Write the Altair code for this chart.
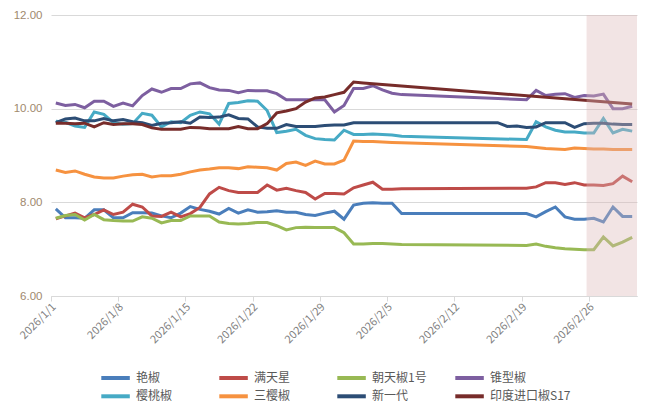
import altair as alt
import pandas as pd

# ---- data (daily, 2026-01-01 .. 2026-03-02; None = no quote that day) ----
start_date = "2026-01-01"
n_days = 61
N = None

series_names = ["艳椒", "满天星", "朝天椒1号", "锥型椒", "樱桃椒", "三樱椒", "新一代", "印度进口椒S17"]
series_colors = ["#4A7EBB", "#BE4B48", "#98B954", "#7D5FA0", "#46AAC5", "#F69240", "#2C4D75", "#772C2A"]

yanjiao = [7.86, 7.67, 7.67, 7.66, 7.84, 7.84, 7.67, 7.67, 7.78, 7.78, 7.77, 7.71, 7.67, 7.77, 7.91,
           7.85, 7.81, 7.75, 7.87, 7.77, 7.84, 7.79, 7.80, 7.82, 7.79, 7.79, 7.74, 7.72, 7.77, 7.81,
           7.64, 7.94, 7.98, 7.99, 7.98, 7.98, 7.76, N, N, N, N, N, N, N, N, N, N, N, N,
           7.76, 7.69, 7.80, 7.90, 7.69, 7.64, 7.64, 7.66, 7.58, 7.90, 7.70, 7.70]
mantianxing = [7.65, 7.71, 7.77, 7.67, 7.74, 7.84, 7.74, 7.79, 7.96, 7.90, 7.71, 7.70, 7.79, 7.69, 7.76,
               7.89, 8.18, 8.32, 8.25, 8.21, 8.21, 8.21, 8.37, 8.26, 8.30, 8.25, 8.21, 8.07, 8.19, 8.19,
               8.18, 8.31, 8.37, 8.43, 8.28, 8.28, 8.29, N, N, N, N, N, N, N, N, N, N, N, N,
               8.30, 8.33, 8.42, 8.42, 8.38, 8.42, 8.37, 8.37, 8.36, 8.40, 8.56, 8.44]
chaotian1 = [7.66, 7.72, 7.74, 7.62, 7.74, 7.63, 7.61, 7.60, 7.60, 7.69, 7.66, 7.56, 7.61, 7.61, 7.71,
             7.71, 7.71, 7.58, 7.55, 7.54, 7.55, 7.57, 7.57, 7.50, 7.41, 7.46, 7.47, 7.46, 7.46, 7.46,
             7.35, 7.11, 7.11, 7.12, 7.12, 7.11, 7.10, N, N, N, N, N, N, N, N, N, N, N, N,
             7.08, 7.11, 7.06, 7.03, 7.01, 7.00, 6.99, 6.99, 7.26, 7.07, 7.15, 7.25]
zhuixing = [10.12, 10.07, 10.09, 10.02, 10.16, 10.16, 10.05, 10.12, 10.06, 10.28, 10.42, 10.35, 10.43, 10.43, 10.53,
            10.55, 10.45, 10.40, 10.39, 10.34, 10.39, 10.38, 10.38, 10.32, 10.19, 10.19, 10.19, 10.19, 10.19, 9.93,
            10.07, 10.43, 10.43, 10.49, 10.40, 10.33, 10.30, N, N, N, N, N, N, N, N, N, N, N, N,
            10.19, 10.39, 10.28, 10.31, 10.32, 10.24, 10.28, 10.27, 10.31, 10.00, 10.00, 10.05]
yingtao = [9.73, 9.71, 9.63, 9.60, 9.93, 9.88, 9.70, 9.67, 9.68, 9.90, 9.86, 9.61, 9.72, 9.70, 9.86,
           9.93, 9.89, 9.67, 10.11, 10.13, 10.17, 10.16, 9.96, 9.49, 9.52, 9.56, 9.43, 9.36, 9.34, 9.33,
           9.54, 9.45, 9.45, 9.46, 9.45, 9.44, 9.41, N, N, N, N, N, N, N, N, N, N, N, N,
           9.34, 9.72, 9.61, 9.54, 9.50, 9.50, 9.48, 9.48, 9.79, 9.48, 9.56, 9.52]
sanying = [8.69, 8.64, 8.67, 8.60, 8.54, 8.52, 8.52, 8.56, 8.59, 8.60, 8.54, 8.57, 8.57, 8.60, 8.65,
           8.69, 8.71, 8.74, 8.74, 8.72, 8.76, 8.75, 8.74, 8.69, 8.83, 8.86, 8.79, 8.88, 8.82, 8.82,
           8.90, 9.31, 9.30, 9.30, 9.29, 9.28, 9.27, N, N, N, N, N, N, N, N, N, N, N, N,
           9.19, 9.17, 9.15, 9.14, 9.13, 9.16, 9.15, 9.14, 9.14, 9.13, 9.13, 9.13]
xinyidai = [9.70, 9.78, 9.80, 9.74, 9.74, 9.79, 9.74, 9.77, 9.72, 9.70, 9.64, 9.69, 9.70, 9.72, 9.69,
            9.82, 9.81, 9.82, 9.87, 9.79, 9.78, 9.61, 9.58, 9.58, 9.66, 9.62, 9.62, 9.62, 9.64, 9.65,
            9.65, 9.70, 9.70, 9.70, 9.70, 9.70, 9.70, N, N, N, N, N, N, N, N, N, 9.70, 9.62, 9.63,
            9.60, 9.61, 9.70, 9.70, 9.70, 9.60, 9.68, 9.69, 9.69, 9.67, 9.66, 9.66]
yindu_s17 = [9.69, 9.69, 9.68, 9.69, 9.61, 9.70, 9.66, 9.68, 9.68, 9.66, 9.59, 9.56, 9.56, 9.56, 9.60,
             9.59, 9.57, 9.57, 9.57, 9.62, 9.57, 9.57, 9.68, 9.91, 9.95, 10.00, 10.14, 10.23, 10.25, 10.30,
             10.35, 10.57, 10.55, N, N, N, N, N, N, N, N, N, N, N, N,
             N, N, N, N, N, N, N, N, N, N, N, N, N, N, N, 10.10]

series_values = [yanjiao, mantianxing, chaotian1, zhuixing, yingtao, sanying, xinyidai, yindu_s17]

tick_dates = ["2026-01-01", "2026-01-08", "2026-01-15", "2026-01-22", "2026-01-29",
              "2026-02-05", "2026-02-12", "2026-02-19", "2026-02-26"]
y_ticks = [6, 8, 10, 12]
shade_span = ["2026-02-25T18:00:00", "2026-03-03T00:00:00"]

# ---- build table ----
days = pd.date_range(start_date, periods=n_days, freq="D") + pd.Timedelta(hours=12)
rows = []
for name, vals in zip(series_names, series_values):
    for d, v in zip(days, vals):
        if v is not None:
            rows.append({"date": d.strftime("%Y-%m-%dT%H:%M:%S"), "series": name, "price": v})
df = pd.DataFrame(rows)

x_domain = [alt.DateTime(year=2026, month=1, date=1), alt.DateTime(year=2026, month=3, date=3)]
tick_vals = [alt.DateTime(year=int(t[:4]), month=int(t[5:7]), date=int(t[8:10])) for t in tick_dates]

FONT = "Noto Sans CJK SC"

x_enc = alt.X("date:T", scale=alt.Scale(domain=x_domain),
              axis=alt.Axis(values=tick_vals, format="%Y/%-m/%-d", formatType="time",
                            labelAngle=-45, labelAlign="right", labelBaseline="middle",
                            labelColor="#7f7f7f", labelFontSize=11, labelFont=FONT,
                            labelPadding=4, labelOffset=3,
                            grid=False, domainColor="#d9d9d9", tickColor="#d9d9d9",
                            tickSize=5, title=None, labelOverlap=False, labelFlush=False))
y_enc = alt.Y("price:Q", scale=alt.Scale(domain=[6, 12], nice=False, zero=False),
              axis=alt.Axis(values=y_ticks, format=".2f", grid=True, gridColor="#d9d9d9",
                            domain=False, ticks=False, labelColor="#a0896e", labelFontSize=11.5,
                            labelFont="Liberation Sans", labelPadding=9, title=None))

lines = alt.Chart(df).mark_line(strokeWidth=3, interpolate="linear").encode(
    x=x_enc,
    y=y_enc,
    color=alt.Color("series:N",
                    scale=alt.Scale(domain=series_names, range=series_colors),
                    sort=series_names,
                    legend=alt.Legend(title=None, orient="none", legendX=48, legendY=355,
                                      columns=4, direction="horizontal", gridAlign="all",
                                      symbolType="M-1,0H4", symbolSize=130, symbolStrokeWidth=4,
                                      labelFont=FONT, labelFontSize=12, labelColor="#595959",
                                      labelOffset=21, columnPadding=-10.5, rowPadding=2.3, padding=0)),
    order=alt.Order("date:T"),
)

shade_df = pd.DataFrame({"start": [shade_span[0]], "end": [shade_span[1]], "lo": [6], "hi": [12]})
shade = alt.Chart(shade_df).mark_rect(color="#DDB9B9", opacity=0.38).encode(
    x="start:T", x2="end:T", y="lo:Q", y2="hi:Q"
)

chart = alt.layer(lines, shade).properties(
    width=586, height=281,
    autosize=alt.AutoSizeParams(type="none"),
    padding={"left": 43, "top": 7, "right": 7, "bottom": 110},
    background="white",
).configure_view(stroke=None)

chart.save("out.html", embed_options={"renderer": "svg", "actions": False})
